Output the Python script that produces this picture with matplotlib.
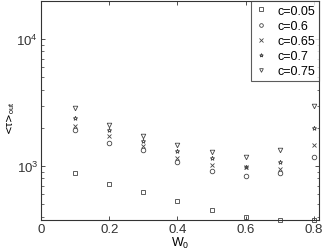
import numpy as np
import matplotlib
matplotlib.use('Agg')
import matplotlib.pyplot as plt

plt.rcParams['font.family'] = ['Liberation Sans', 'DejaVu Sans']
plt.rcParams['mathtext.fontset'] = 'custom'
plt.rcParams['mathtext.rm'] = 'Liberation Sans'
plt.rcParams['mathtext.it'] = 'Liberation Sans'

w0 = [0.1, 0.2, 0.3, 0.4, 0.5, 0.6, 0.7, 0.8]
tau_005 = [880, 720, 625, 530, 450, 397, 376, 376]
tau_060 = [1920, 1520, 1340, 1075, 913, 834, 881, 1180]
tau_065 = [2065, 1720, 1440, 1156, 1018, 982, 947, 1460]
tau_070 = [2390, 1920, 1573, 1313, 1156, 982, 1075, 1990]
tau_075 = [2865, 2104, 1722, 1463, 1290, 1178, 1337, 2966]

fig = plt.figure(figsize=(3.24, 2.53), dpi=100)
ax = fig.add_axes([41/324, 32/253, 278/324, 219/253])

kw = dict(linestyle='none', markersize=3.3, markeredgewidth=0.6, color='#444444', markerfacecolor='none')
ax.plot(w0, tau_005, marker='s', label='c=0.05', clip_on=False, **kw)
ax.plot(w0, tau_060, marker='o', label='c=0.6', **kw)
ax.plot(w0, tau_065, marker='x', label='c=0.65', **kw)
ax.plot(w0, tau_070, marker='*', label='c=0.7', **kw)
ax.plot(w0, tau_075, marker='v', label='c=0.75', **kw)

ax.set_yscale('log')
ax.set_xlim(0, 0.815)
ax.set_ylim(376, 2e4)
ax.set_xticks([0, 0.2, 0.4, 0.6, 0.8])
ax.set_xticklabels(['0', '0.2', '0.4', '0.6', '0.8'])
ax.tick_params(which='both', direction='in', top=True, right=True, labelsize=9.5, colors='#333333')
ax.tick_params(which='major', length=3, width=0.6, pad=2)
ax.tick_params(which='minor', length=1.8, width=0.5)
for s in ax.spines.values():
    s.set_linewidth(0.8)
    s.set_color('#333333')

ax.set_xlabel('W$_0$', fontsize=9, labelpad=0)
ax.set_ylabel(r'<$\tau$>$_{\rm out}$', fontsize=7.5, family=['DejaVu Sans'])
ax.yaxis.set_label_coords(-0.085, 0.47)

leg = ax.legend(loc='upper right', fontsize=9, frameon=True, fancybox=False,
                edgecolor='#333333', borderaxespad=0, handlelength=1.0,
                handletextpad=0.8, labelspacing=0.25, borderpad=0.3, markerscale=0.8)
leg.get_frame().set_linewidth(0.8)

fig.savefig('out.png', dpi=100)
